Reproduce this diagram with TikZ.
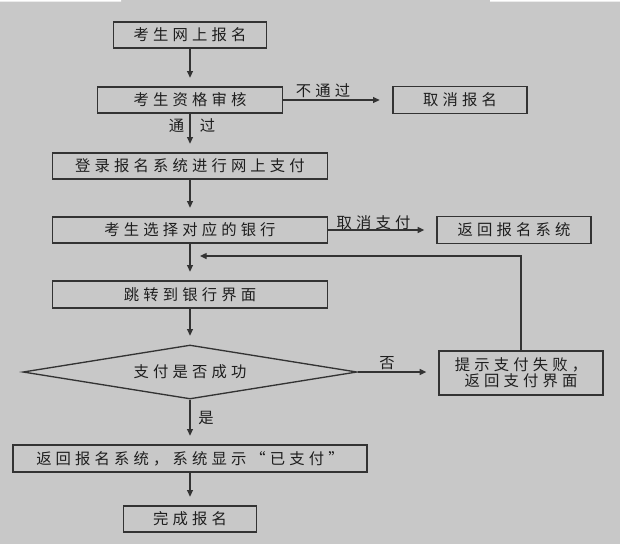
\documentclass[tikz,border=0pt]{standalone}
\usepackage{fontspec}
\newfontfamily\cjkfont[LetterSpace=27]{Noto Sans CJK SC}
\usetikzlibrary{arrows.meta,shapes.geometric}
\definecolor{paper}{HTML}{C8C8C8}
\definecolor{ink}{HTML}{333333}
\definecolor{txt}{HTML}{1E1E1E}
\tikzset{
  box/.style={draw=ink,fill=paper,line width=1pt,inner sep=0pt,minimum height=19.5pt,
    text=txt,font={\cjkfont\fontsize{11.5pt}{12pt}\selectfont}},
  decide/.style={diamond,draw=ink,fill=paper,line width=1pt,inner sep=0pt,aspect=6.2,
    minimum width=250.5pt,minimum height=40.5pt,
    text=txt,font={\cjkfont\fontsize{11.5pt}{12pt}\selectfont}},
  flow/.style={-{Triangle[length=5pt,width=4.5pt]},draw=ink,line width=1pt,shorten >=6.5pt},
  lbl/.style={inner sep=0pt,text=txt,font={\cjkfont\fontsize{11.5pt}{12pt}\selectfont}},
}
\begin{document}
\begin{tikzpicture}[x=0.75pt,y=-0.75pt]
  \useasboundingbox (0,0) rectangle (620,544);
  \fill[paper] (0,0) rectangle (620,544);
  % scan edge at the top
  \fill[white] (0,0) rectangle (121,1.7) (490,0) rectangle (620,1.7);
  % main column
  \node[box,minimum width=114.75pt] (reg) at (190,35) {考生网上报名};
  \node[box,minimum width=138.75pt] (check) at (190,100) {考生资格审核};
  \node[box,minimum width=206.25pt] (login) at (190,166) {登录报名系统进行网上支付};
  \node[box,minimum width=206.25pt] (bank) at (190,230) {考生选择对应的银行};
  \node[box,minimum width=206.25pt,minimum height=20.25pt] (jump) at (190,294.5) {跳转到银行界面};
  \node[decide] (ok) at (190,372) {支付是否成功};
  \node[box,minimum width=265.5pt,minimum height=20.25pt] (paid) at (190,458.5) {返回报名系统，系统显示“已支付”};
  \node[box,minimum width=99.75pt] (done) at (190,519) {完成报名};
  % side branch
  \node[box,minimum width=100.5pt,minimum height=20.25pt] (cancel) at (460,100) {取消报名};
  \node[box,minimum width=115.5pt,minimum height=20.25pt] (back) at (514,230) {返回报名系统};
  \node[box,minimum width=123pt,minimum height=33pt,align=center] (fail) at (521,373) {提示支付失败，\\返回支付界面};
  \coordinate (loop) at (190,256);
  % connectors
  \foreach \a/\b in {reg/check,check/login,login/bank,bank/jump,jump/ok,ok/paid,paid/done}
    \draw[flow] (\a) -- (\b);
  \draw[flow,shorten >=9.5pt] (check.east) -- (check.east -| cancel.west);
  \draw[flow,shorten >=9pt] (bank.east) -- (bank.east -| back.west);
  \draw[flow,shorten >=9pt] (ok.east) -- (ok.east -| fail.west);
  \draw[flow,shorten >=7.5pt] (fail.north) |- (loop);
  % labels
  \node[lbl] (nopass) at (323,91) {不通过};
  \node[lbl] (pass1) at (176.5,126) {通};
  \node[lbl] (pass2) at (207.5,126) {过};
  \node[lbl] (nopay) at (373.5,222.5) {取消支付};
  \node[lbl] (no) at (387,363.5) {否};
  \node[lbl] (yes) at (206,418) {是};
\end{tikzpicture}
\end{document}
